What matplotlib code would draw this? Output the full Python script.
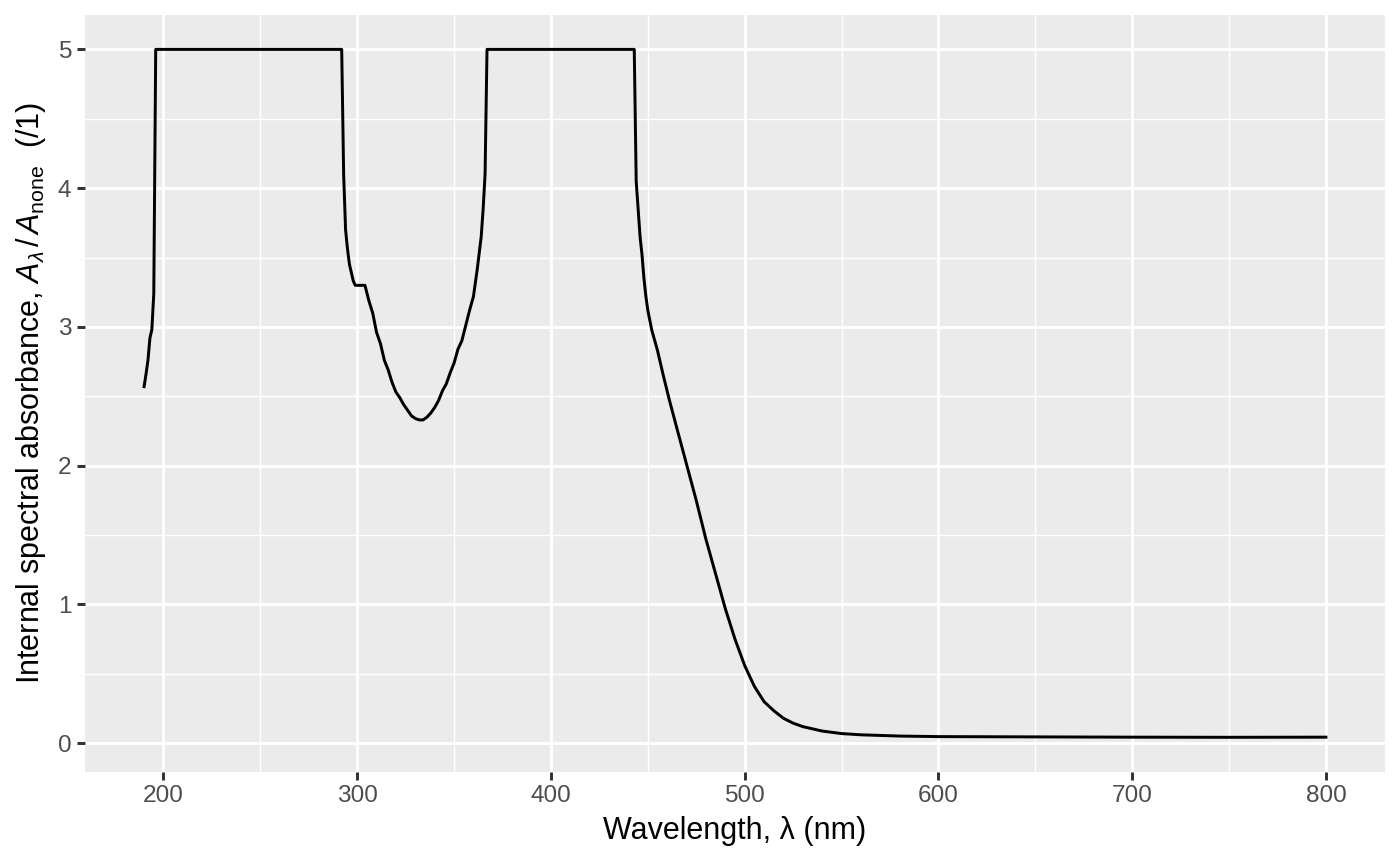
import matplotlib
matplotlib.use("Agg")
import matplotlib.pyplot as plt
from matplotlib.ticker import MultipleLocator

# valores
wavelength = [190, 191, 192, 193, 194, 195, 196, 292, 293, 294, 295, 296, 297, 298, 299,
              304, 306, 308, 310, 312, 314, 316, 318, 320, 322, 324, 326, 328, 330, 332,
              334, 336, 338, 340, 342, 344, 346, 348, 350, 352, 354, 356, 358, 360, 362,
              364, 365, 366, 367, 443, 444, 445, 446, 447, 448, 449, 450, 452, 455, 458,
              461, 465, 470, 475, 480, 485, 490, 495, 500, 505, 510, 515, 520, 525, 530,
              540, 550, 560, 580, 600, 650, 700, 750, 800]
absorbance = [2.57, 2.66, 2.76, 2.92, 2.98, 3.24, 5.0, 5.0, 4.10, 3.70, 3.56, 3.45, 3.39, 3.33, 3.30,
              3.30, 3.19, 3.10, 2.96, 2.88, 2.76, 2.69, 2.60, 2.53, 2.49, 2.44, 2.40, 2.36, 2.34, 2.33,
              2.33, 2.35, 2.38, 2.42, 2.47, 2.54, 2.59, 2.67, 2.74, 2.84, 2.90, 3.01, 3.12, 3.22, 3.42,
              3.65, 3.85, 4.10, 5.0, 5.0, 4.05, 3.85, 3.65, 3.52, 3.35, 3.22, 3.12, 2.98, 2.83, 2.65,
              2.48, 2.27, 2.01, 1.75, 1.47, 1.22, 0.97, 0.75, 0.56, 0.41, 0.30, 0.235, 0.18, 0.145, 0.12,
              0.088, 0.07, 0.061, 0.052, 0.048, 0.046, 0.044, 0.043, 0.044]

plt.rcParams['font.family'] = ['Liberation Sans', 'DejaVu Sans']
plt.rcParams['mathtext.fontset'] = 'custom'
plt.rcParams['mathtext.rm'] = 'Liberation Sans'
plt.rcParams['mathtext.it'] = 'Liberation Sans:italic'
plt.rcParams['mathtext.bf'] = 'Liberation Sans:bold'

fig = plt.figure(figsize=(7, 4.33), dpi=200)
ax = fig.add_axes([85 / 1400, 1 - 771.7 / 866, 1300 / 1400, 756.7 / 866])
ax.set_facecolor("#EBEBEB")
for s in ax.spines.values():
    s.set_visible(False)

ax.plot(wavelength, absorbance, color="black", linewidth=1.07, zorder=3)
ax.margins(x=0.05, y=0.05)

ax.xaxis.set_major_locator(MultipleLocator(100))
ax.xaxis.set_minor_locator(MultipleLocator(50))
ax.yaxis.set_major_locator(MultipleLocator(1))
ax.yaxis.set_minor_locator(MultipleLocator(0.5))
ax.grid(which="major", color="white", linewidth=1.07)
ax.grid(which="minor", color="white", linewidth=0.53)
ax.set_axisbelow(True)

ax.tick_params(which="major", length=2.75, width=1.07, color="#333333",
               labelsize=8.8, labelcolor="#4D4D4D", pad=2.2)
ax.tick_params(which="minor", length=0)

ax.set_xlabel("Wavelength, λ (nm)", fontsize=11, color="black", labelpad=3)
ax.set_ylabel(r"Internal spectral absorbance, $A_{\lambda}\,/\,A_{\mathrm{none}}$  (/1)",
              fontsize=11, color="black", labelpad=3.5)

fig.savefig("out.png", dpi=200)
